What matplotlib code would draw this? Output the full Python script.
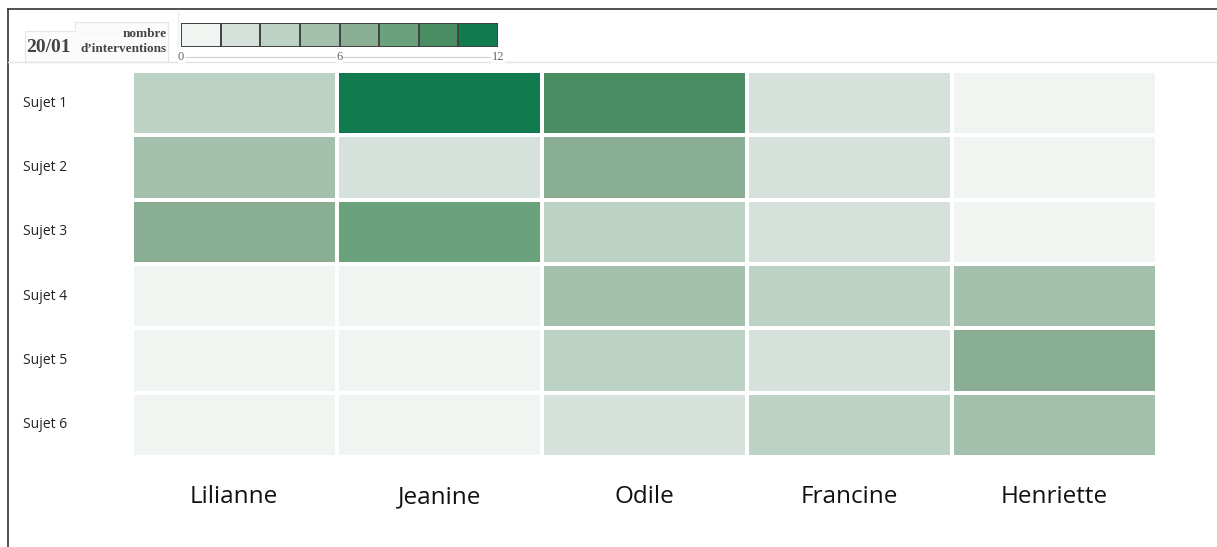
import matplotlib
matplotlib.use('Agg')
import matplotlib.pyplot as plt
import numpy as np
from matplotlib.colors import ListedColormap, BoundaryNorm
from matplotlib.patches import Rectangle
from matplotlib.lines import Line2D

# Données
participants = ['Lilianne', 'Jeanine', 'Odile', 'Francine', 'Henriette']
sujets = ['Sujet 1', 'Sujet 2', 'Sujet 3', 'Sujet 4', 'Sujet 5', 'Sujet 6']
lilianne = [4, 5, 7, 0, 0, 0]
jeanine = [12, 2, 8, 0, 0, 0]
odile = [10, 7, 4, 5, 4, 2]
francine = [2, 2, 2, 4, 2, 4]
henriette = [0, 0, 0, 5, 7, 5]
date_label = '20/01'
legend_title = ['nombre', "d\u2019interventions"]
bin_edges = [0, 1.5, 3, 4.5, 6, 7.5, 9, 10.5, 12]
legend_ticks = [0, 6, 12]
palette = ['#f1f5f2', '#d7e1dc', '#bbd2c5', '#a2c0ac',
           '#8aae93', '#6ba27d', '#4a8d62', '#117a4e']

W, H = 1217, 547


def px_axes(fig, x0, y0, x1, y1):
    # rectangle en pixels (origine en haut à gauche)
    return fig.add_axes([x0 / W, 1 - y1 / H, (x1 - x0) / W, (y1 - y0) / H])


def main():
    fig = plt.figure(figsize=(W / 100, H / 100), dpi=100)
    fig.patch.set_facecolor('white')

    cmap = ListedColormap(palette)
    norm = BoundaryNorm(bin_edges, cmap.N)

    # Cadre
    fx = lambda x: x / W
    fy = lambda y: 1 - y / H
    fig.add_artist(Line2D([fx(8), fx(8)], [fy(9), fy(547)], color='#333333', lw=1.2))
    fig.add_artist(Line2D([fx(8), fx(1217)], [fy(9), fy(9)], color='#333333', lw=1.2))
    fig.add_artist(Line2D([fx(8), fx(1217)], [fy(62), fy(62)], color='#e4e4e4', lw=1))
    fig.add_artist(Line2D([fx(178), fx(178)], [fy(10), fy(62)], color='#eeeeee', lw=1))

    # Boîte de légende
    fig.add_artist(Rectangle((fx(25), fy(62)), fx(143), 31 / H, facecolor='#fbfbfb',
                             edgecolor='#e6e6e6', lw=0.8))
    fig.add_artist(Rectangle((fx(75), fy(31)), fx(93), 9 / H, facecolor='#fbfbfb',
                             edgecolor='#e6e6e6', lw=0.8))
    fig.add_artist(Rectangle((fx(75.5), fy(32)), fx(92), 3 / H, facecolor='#fbfbfb',
                             edgecolor='none'))
    fig.text(fx(26), fy(48), date_label, fontsize=14, fontweight='bold',
             family='Liberation Serif', color='#444444', va='center', ha='left')
    fig.text(fx(167), fy(34), legend_title[0], fontsize=9.5, fontweight='bold',
             family='Liberation Serif', color='#444444', va='center', ha='right')
    fig.text(fx(167), fy(49), legend_title[1], fontsize=9.5, fontweight='bold',
             family='Liberation Serif', color='#444444', va='center', ha='right')

    # Barre de couleurs
    cax = px_axes(fig, 181, 23, 498, 47)
    centers = [(a + b) / 2 for a, b in zip(bin_edges[:-1], bin_edges[1:])]
    cax.pcolormesh(bin_edges, [0, 1], [centers], cmap=cmap, norm=norm,
                   edgecolors='#444444', linewidth=1.2)
    cax.set_xlim(0, 12)
    cax.set_ylim(0, 1)
    cax.axis('off')

    fig.add_artist(Line2D([fx(181), fx(498)], [fy(57), fy(57)], color='#d0d0d0', lw=0.8))
    for t in legend_ticks:
        x = 181 + (498 - 181) * t / 12
        fig.text(fx(x), fy(57), str(t), fontsize=9, family='Liberation Serif',
                 color='#666666', ha='center', va='center',
                 bbox=dict(facecolor='white', edgecolor='none', pad=0.3))

    # Heatmap
    ax = px_axes(fig, 131.5, 71, 1157, 457)
    data = np.array([lilianne, jeanine, odile, francine, henriette]).T
    ax.pcolormesh(np.arange(len(participants) + 1), np.arange(len(sujets) + 1), data,
                  cmap=cmap, norm=norm, edgecolors='white', linewidth=1.7)
    ax.set_xlim(0, len(participants))
    ax.set_ylim(len(sujets), 0)
    for s in ax.spines.values():
        s.set_visible(False)
    ax.set_xticks([])
    ax.set_yticks([])

    colw = (1157 - 131.5) / len(participants)
    rowh = (457 - 71) / len(sujets)
    for i, name in enumerate(sujets):
        ax.text(-(131.5 - 23) / colw, i + 0.5, name, fontsize=10, family='Open Sans',
                color='#222222', ha='left', va='center')
    for j, name in enumerate(participants):
        ax.text(j + 0.5, 6 + 40 / rowh, name, fontsize=17.5, family='Open Sans',
                color='#111111', ha='center', va='center')

    fig.savefig('out.png', dpi=100)


if __name__ == '__main__':
    main()
